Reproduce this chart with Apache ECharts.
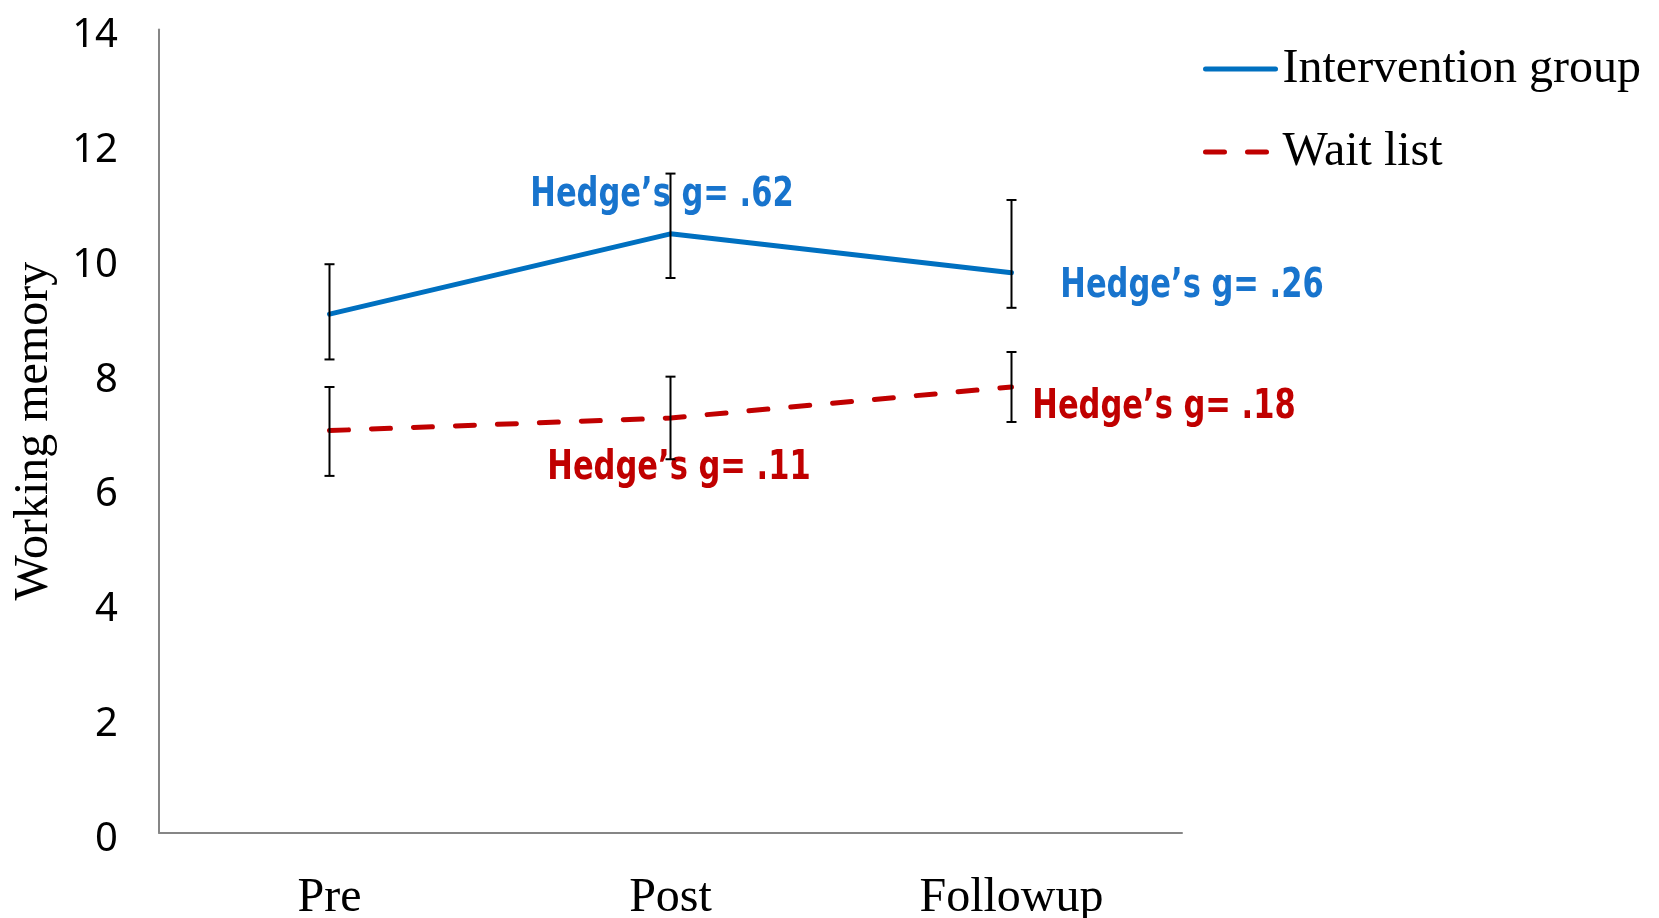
<!DOCTYPE html>
<html>
<head>
<meta charset="utf-8">
<script src="https://cdn.jsdelivr.net/npm/echarts@6/dist/echarts.min.js"></script>
<style>html,body{margin:0;padding:0;background:#fff}#c{width:1659px;height:918px}</style>
</head>
<body>
<div id="c"></div>
<script>
const categories = ['Pre', 'Post', 'Followup'];
const yTicks = [0, 2, 4, 6, 8, 10, 12, 14];
const interventionMean = [9.04, 10.44, 9.76];
const interventionLow = [8.25, 9.67, 9.15];
const interventionHigh = [9.91, 11.49, 11.03];
const waitMean = [7.01, 7.23, 7.77];
const waitLow = [6.22, 6.51, 7.16];
const waitHigh = [7.77, 7.95, 8.38];
const interventionNotes = ['', 'Hedge\u2019s g= .62', 'Hedge\u2019s g= .26'];
const waitNotes = ['', 'Hedge\u2019s g= .11', 'Hedge\u2019s g= .18'];

const BLUE = '#0070C0', RED = '#C00000';
const SERIF = "'Liberation Serif', 'Times New Roman', serif";
const interventionOffsets = [[0,0], [-8.5,-38], [180.5,14]];
const waitOffsets = [[0,0], [8.5,50], [152.5,20]];

function noteData(means, notes) {
  return means.map((v, i) => [i, v, notes[i]]).filter(d => d[2]);
}
function makeNoteRenderer(offsets, color) {
  return function (params, api) {
    const i = api.value(0);
    const p = api.coord([i, api.value(1)]);
    const off = offsets[i];
    return {
      type: 'text', x: p[0] + off[0], y: p[1] + off[1], scaleX: 0.745, scaleY: 1,
      style: { text: api.value(2), fill: color, font: "bold 41px 'DejaVu Sans', sans-serif",
               align: 'center', verticalAlign: 'middle' }
    };
  };
}
function errData(low, high) { return low.map((l, i) => [i, l, high[i]]); }
function renderErr(params, api) {
  const x = api.value(0);
  const lo = api.coord([x, api.value(1)]);
  const hi = api.coord([x, api.value(2)]);
  const w = 5;
  const st = { stroke: '#000', lineWidth: 2 };
  return { type: 'group', children: [
    { type: 'line', shape: { x1: lo[0], y1: lo[1], x2: hi[0], y2: hi[1] }, style: st },
    { type: 'line', shape: { x1: lo[0]-w, y1: lo[1], x2: lo[0]+w, y2: lo[1] }, style: st },
    { type: 'line', shape: { x1: hi[0]-w, y1: hi[1], x2: hi[0]+w, y2: hi[1] }, style: st }
  ]};
}

const chart = echarts.init(document.getElementById('c'));
chart.setOption({
  animation: false,
  backgroundColor: '#fff',
  grid: { left: 159, right: 477, top: 29.6, bottom: 85.3, containLabel: false, outerBoundsMode: 'none' },
  legend: {
    orient: 'vertical', left: 1203, top: 45, padding: 0, itemWidth: 70, itemHeight: 6, itemGap: 35,
    itemStyle: { opacity: 0 },
    lineStyle: { width: 5, cap: 'round' },
    textStyle: { fontFamily: SERIF, fontSize: 48, color: '#000', padding: [0,0,0,2] },
    data: ['Intervention group', 'Wait list']
  },
  xAxis: {
    type: 'category', data: categories, boundaryGap: true,
    axisLine: { lineStyle: { color: '#868686', width: 2 } },
    axisTick: { show: false },
    axisLabel: { margin: 42, fontFamily: SERIF, fontSize: 48, color: '#000' }
  },
  yAxis: {
    type: 'value', min: yTicks[0], max: yTicks[yTicks.length-1], interval: yTicks[1]-yTicks[0],
    name: 'Working memory', nameLocation: 'middle', nameGap: 101,
    nameTextStyle: { fontFamily: SERIF, fontSize: 48, color: '#000' },
    axisLine: { show: true, lineStyle: { color: '#868686', width: 2 } },
    axisTick: { show: false },
    splitLine: { show: false },
    axisLabel: { margin: 41, verticalAlign: 'top', lineHeight: 13, fontFamily: "'Noto Sans', sans-serif", fontSize: 40, color: '#000' }
  },
  series: [
    { name: 'Intervention group', type: 'line', data: interventionMean, symbol: 'none',
      itemStyle: { color: BLUE }, lineStyle: { color: BLUE, width: 5, cap: 'round' }, z: 2 },
    { name: 'Wait list', type: 'line', data: waitMean, symbol: 'none',
      itemStyle: { color: RED }, lineStyle: { color: RED, width: 5, type: [19, 23], cap: 'round' }, z: 2 },
    { type: 'custom', renderItem: makeNoteRenderer(interventionOffsets, '#1874CD'), data: noteData(interventionMean, interventionNotes), z: 3, silent: true },
    { type: 'custom', renderItem: makeNoteRenderer(waitOffsets, RED), data: noteData(waitMean, waitNotes), z: 3, silent: true },
    { type: 'custom', renderItem: renderErr, data: errData(interventionLow, interventionHigh), z: 5, silent: true },
    { type: 'custom', renderItem: renderErr, data: errData(waitLow, waitHigh), z: 5, silent: true }
  ]
});
</script>
</body>
</html>
